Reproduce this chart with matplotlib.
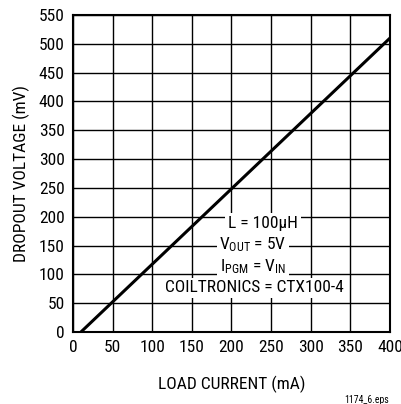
import matplotlib
matplotlib.use('Agg')
import matplotlib.pyplot as plt

plt.rcParams['font.family'] = ['Roboto Condensed', 'DejaVu Sans']
plt.rcParams['mathtext.fontset'] = 'custom'
plt.rcParams['mathtext.rm'] = 'Roboto Condensed'
plt.rcParams['mathtext.it'] = 'Roboto Condensed'

# load current (mA) vs dropout voltage (mV)
current = [10, 400]
dropout = [0, 510]

xticks = [0, 50, 100, 150, 200, 250, 300, 350, 400]
yticks = [0, 50, 100, 150, 200, 250, 300, 350, 400, 450, 500, 550]

fig = plt.figure(figsize=(4.02, 4.04), dpi=100)
ax = fig.add_axes([73 / 402, 1 - 332 / 404, 317 / 402, 317 / 404])

ax.plot(current, dropout, color='black', linewidth=2.2, solid_capstyle='butt', zorder=3)

ax.set_xlim(0, 400)
ax.set_ylim(0, 550)
ax.set_xticks(xticks)
ax.set_yticks(yticks)
ax.grid(True, color='black', linewidth=1.0)
ax.tick_params(length=0, labelsize=12.5, pad=6)
for s in ax.spines.values():
    s.set_linewidth(1.5)

ax.set_xlabel('LOAD CURRENT (mA)', fontsize=12.5, labelpad=15)
ax.set_ylabel('DROPOUT VOLTAGE (mV)', fontsize=12.5, labelpad=6)

lines = ['L = 100\u03bcH', r'V$_{\mathrm{OUT}}$ = 5V', r'I$_{\mathrm{PGM}}$ = V$_{\mathrm{IN}}$', 'COILTRONICS = CTX100-4']
ypos = [223, 245, 267, 288]
xpos = [263, 253, 253, 254]
for t, yy, xx in zip(lines, ypos, xpos):
    ax.text(xx / 402, 1 - yy / 404, t, transform=fig.transFigure, fontsize=12.5,
            ha='center', va='center', zorder=4,
            bbox=dict(facecolor='white', edgecolor='none', pad=2))

fig.text(389 / 402, 1 - 400 / 404, '1174_6.eps', fontsize=7, ha='right', va='center')

fig.savefig('out.png', dpi=100)
